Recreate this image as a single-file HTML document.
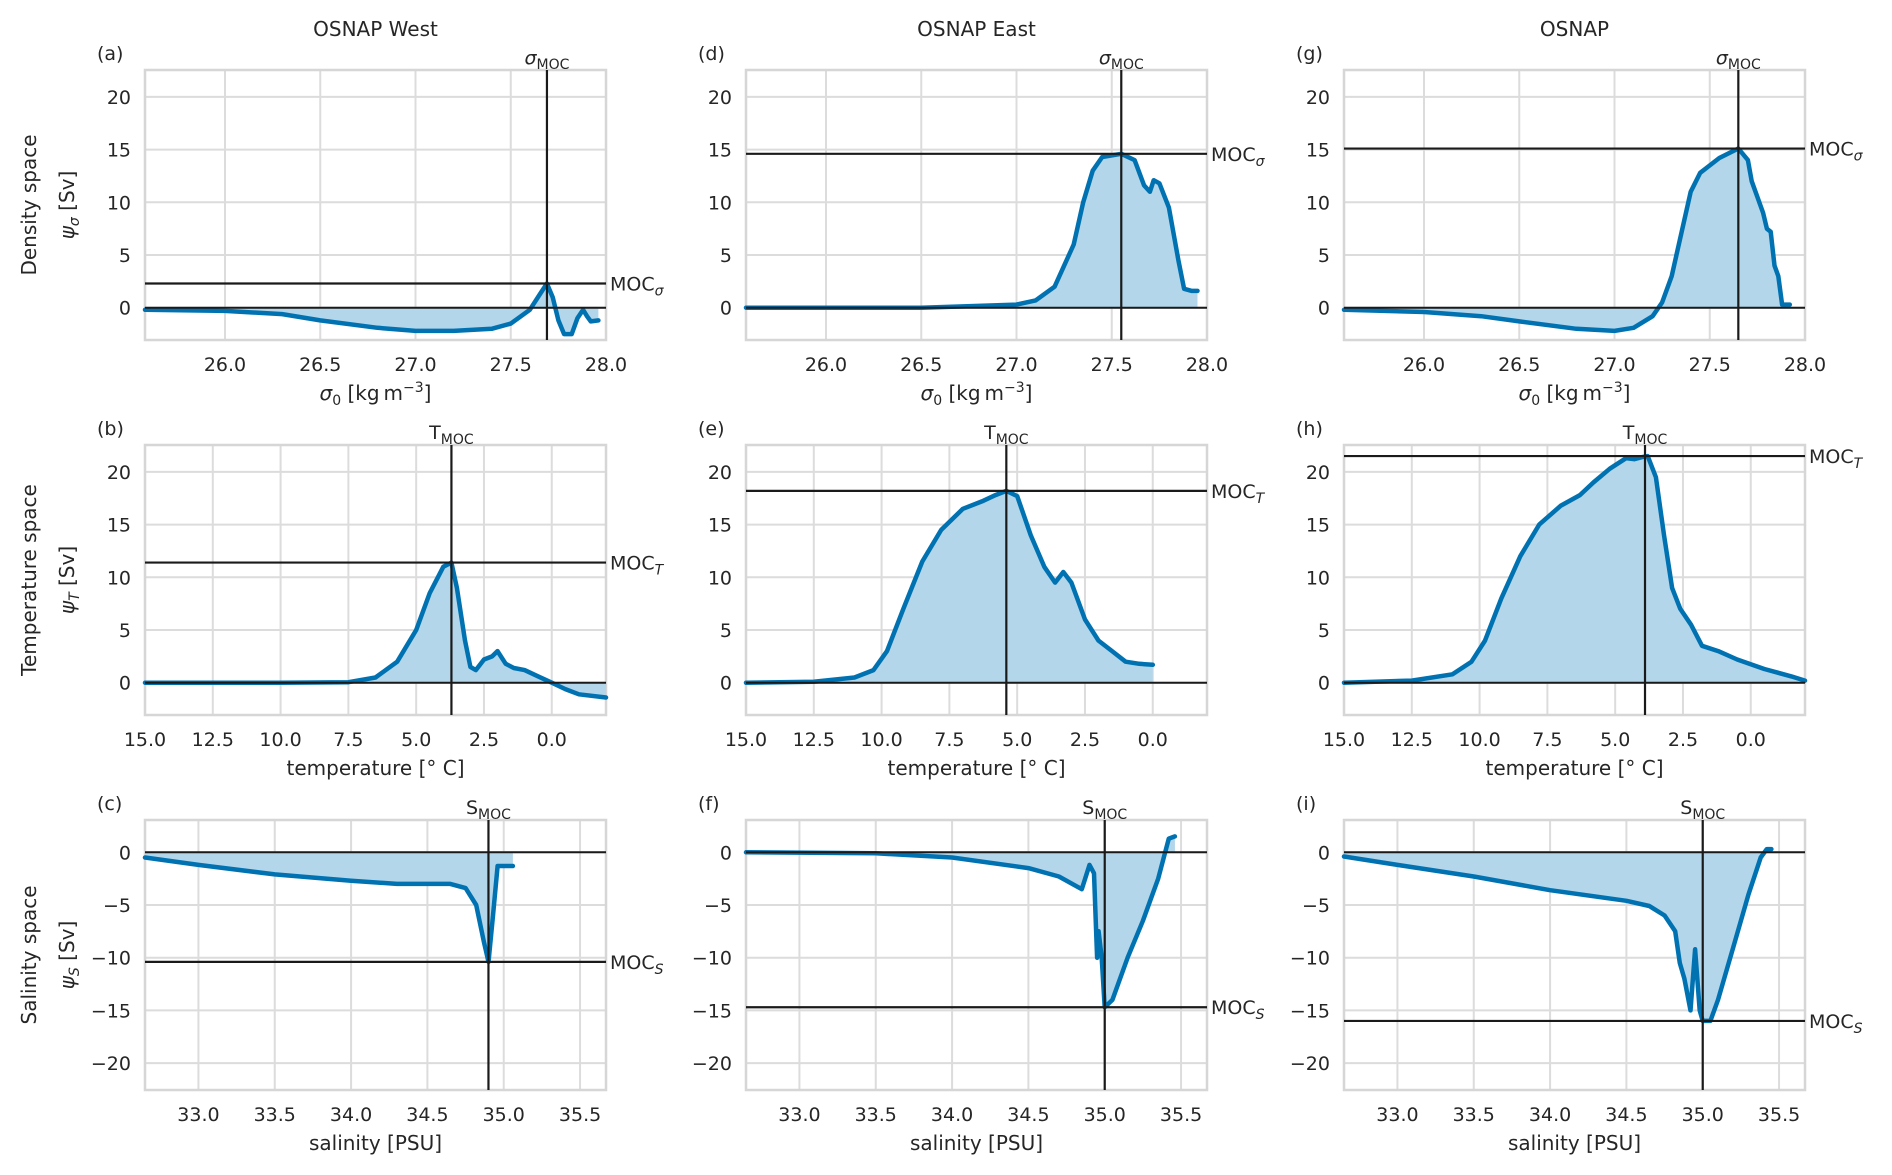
<!DOCTYPE html>
<html><head><meta charset="utf-8">
<style>
html,body{margin:0;padding:0;background:#fff;}
svg{display:block;font-family:"DejaVu Sans","Liberation Sans",sans-serif;}
</style></head>
<body>
<svg id="fig" width="1892" height="1175" viewBox="0 0 1892 1175" xmlns="http://www.w3.org/2000/svg"></svg>
<script>
// ---- data ----
const densWestX=[25.58,26.0,26.3,26.5,26.8,27.0,27.2,27.4,27.5,27.6,27.65,27.69,27.72,27.75,27.78,27.82,27.85,27.88,27.9,27.92,27.96];
const densWestY=[-0.2,-0.3,-0.6,-1.2,-1.9,-2.2,-2.2,-2.0,-1.5,-0.2,1.2,2.3,1.0,-1.2,-2.5,-2.5,-1.0,-0.2,-0.8,-1.3,-1.2];
const densEastX=[25.58,26.5,27.0,27.1,27.2,27.3,27.35,27.4,27.45,27.55,27.62,27.67,27.7,27.72,27.75,27.8,27.85,27.88,27.92,27.95];
const densEastY=[0,0,0.3,0.7,2,6,10,13,14.3,14.6,14,11.6,11,12.1,11.8,9.5,4.5,1.8,1.6,1.6];
const densAllX=[25.58,26.0,26.3,26.5,26.8,27.0,27.1,27.2,27.25,27.3,27.35,27.4,27.45,27.5,27.55,27.65,27.7,27.72,27.75,27.78,27.8,27.82,27.84,27.86,27.88,27.92];
const densAllY=[-0.2,-0.4,-0.8,-1.3,-2.0,-2.2,-1.9,-0.8,0.5,3,7,11,12.8,13.5,14.2,15.1,14,12,10.5,9,7.5,7.2,4,3,0.3,0.3];
const tempWestX=[15,10,7.5,6.5,5.7,5,4.5,4,3.7,3.5,3.2,3.0,2.8,2.5,2.2,2.0,1.7,1.4,1.0,0.5,0,-0.5,-1,-2];
const tempWestY=[0,0,0.05,0.5,2,5,8.5,11,11.4,9,4,1.5,1.2,2.2,2.5,3.0,1.8,1.4,1.2,0.6,0,-0.6,-1.1,-1.4];
const tempEastX=[15,12.5,11,10.3,9.8,9.2,8.5,7.8,7,6.3,5.8,5.4,5.0,4.5,4.0,3.6,3.3,3.0,2.5,2.0,1.5,1.0,0.5,0];
const tempEastY=[0,0.1,0.5,1.2,3,7,11.5,14.5,16.5,17.2,17.8,18.2,17.7,14,11,9.5,10.5,9.5,6,4,3,2,1.8,1.7];
const tempAllX=[15,12.5,11,10.3,9.8,9.2,8.5,7.8,7,6.3,5.8,5.2,4.6,4.3,4.0,3.8,3.5,3.2,2.9,2.6,2.2,1.8,1.2,0.5,-0.5,-1.5,-2];
const tempAllY=[0,0.2,0.8,2,4,8,12,15,16.8,17.8,19,20.3,21.3,21.2,21.4,21.5,19.5,14,9,7,5.5,3.5,3,2.2,1.3,0.6,0.2];
const salWestX=[32.65,33.0,33.5,34.0,34.3,34.5,34.65,34.75,34.82,34.87,34.9,34.93,34.96,35.06];
const salWestY=[-0.5,-1.2,-2.1,-2.7,-3.0,-3.0,-3.0,-3.4,-5,-8.5,-10.4,-6,-1.3,-1.3];
const salEastX=[32.65,33.5,34.0,34.5,34.7,34.85,34.9,34.93,34.95,34.96,34.98,35.0,35.05,35.15,35.25,35.35,35.42,35.46];
const salEastY=[0,-0.1,-0.5,-1.5,-2.3,-3.5,-1.2,-2,-10,-7.5,-10,-14.7,-14,-10,-6.5,-2.5,1.3,1.5];
const salAllX=[32.65,33.0,33.5,34.0,34.5,34.65,34.75,34.82,34.85,34.88,34.92,34.95,34.98,35.0,35.05,35.1,35.2,35.3,35.38,35.42,35.45];
const salAllY=[-0.4,-1.2,-2.3,-3.6,-4.6,-5.1,-6,-7.5,-10.5,-12,-15,-9.2,-15,-16,-16,-14,-9,-4,-0.5,0.3,0.3];
const mocX=[27.69,27.55,27.65,3.7,5.4,3.9,34.9,35.0,35.0];
const mocY=[2.3,14.6,15.1,11.4,18.2,21.5,-10.4,-14.7,-16.0];
const densTicks=[26.0,26.5,27.0,27.5,28.0];
const tempTicks=[15.0,12.5,10.0,7.5,5.0,2.5,0.0];
const salTicks=[33.0,33.5,34.0,34.5,35.0,35.5];
const yTicksPos=[0,5,10,15,20];
const yTicksNeg=[0,-5,-10,-15,-20];
const colTitles=["OSNAP West","OSNAP East","OSNAP"];
const letters=["a","d","g","b","e","h","c","f","i"];

// ---- layout ----
const NS="http://www.w3.org/2000/svg";
const svg=document.getElementById('fig');
const colL=[145,746,1344], PW=461;
const rowT=[70,445,820], PH=270;
function mk(tag,attrs,parent){const e=document.createElementNS(NS,tag);for(const k in attrs)e.setAttribute(k,attrs[k]);(parent||svg).appendChild(e);return e;}
function fmt(v){return (v<0?'\u2212':'')+Math.abs(v).toFixed(1);}

const rows=[
 {xlim:[25.58,28.0],ylim:[-3.06,22.55],ticks:densTicks,yt:yTicksPos,xlab:'density',sym:'\u03C3',symItal:true,series:[[densWestX,densWestY],[densEastX,densEastY],[densAllX,densAllY]],row:'Density space',ysub:'\u03C3',yi:true},
 {xlim:[15,-2],ylim:[-3.06,22.55],ticks:tempTicks,yt:yTicksPos,xlab:'temperature [\u00B0 C]',sym:'T',symItal:false,series:[[tempWestX,tempWestY],[tempEastX,tempEastY],[tempAllX,tempAllY]],row:'Temperature space',ysub:'T',yi:true},
 {xlim:[32.65,35.67],ylim:[-22.55,3.06],ticks:salTicks,yt:yTicksNeg,xlab:'salinity [PSU]',sym:'S',symItal:false,series:[[salWestX,salWestY],[salEastX,salEastY],[salAllX,salAllY]],row:'Salinity space',ysub:'S',yi:true}
];

for(let c=0;c<3;c++){
  const t=mk('text',{x:colL[c]+PW/2,y:36,'text-anchor':'middle','font-size':20,fill:'#262626'});
  
  
  t.textContent=colTitles[c];
}

rows.forEach((R,r)=>{
  const top=rowT[r];
  const cy=top+PH/2;
  const rl=mk('text',{x:0,y:0,transform:`translate(36,${cy}) rotate(-90)`,'text-anchor':'middle','font-size':20,fill:'#262626'});
  
  
  rl.textContent=R.row;
  const yl=mk('text',{x:0,y:0,transform:`translate(74,${cy}) rotate(-90)`,'text-anchor':'middle','font-size':20,fill:'#262626'});
  
  
  yl.innerHTML='<tspan font-style="italic">\u03C8</tspan><tspan font-size="14" dy="5" font-style="italic">'+R.ysub+'</tspan><tspan dy="-5"> [Sv]</tspan>';

  for(let c=0;c<3;c++){
    const idx=r*3+c;
    const left=colL[c];
    const g=mk('g',{});
    
    
    const X=v=>left+(v-R.xlim[0])/(R.xlim[1]-R.xlim[0])*PW;
    const Y=v=>top+PH-(v-R.ylim[0])/(R.ylim[1]-R.ylim[0])*PH;
    R.ticks.forEach(t=>{
      const x=X(t);
      const gl=mk('line',{x1:x,x2:x,y1:top,y2:top+PH,stroke:'#dcdcdc','stroke-width':2},g);
      
      
      const tl=mk('text',{x:x,y:top+PH+31,'text-anchor':'middle','font-size':19,fill:'#262626'},g);
      
      
      tl.textContent=fmt(t);
    });
    R.yt.forEach(t=>{
      const y=Y(t);
      const gl=mk('line',{x1:left,x2:left+PW,y1:y,y2:y,stroke:'#dcdcdc','stroke-width':2},g);
      
      
      const tl=mk('text',{x:left-14,y:y+7,'text-anchor':'end','font-size':19,fill:'#262626'},g);
      
      
      tl.textContent=(t<0?'\u2212':'')+Math.abs(t);
    });
    const fr=mk('rect',{x:left,y:top,width:PW,height:PH,fill:'none',stroke:'#d6d6d6','stroke-width':2.5},g);
    
    
    const [xs,ys]=R.series[c];
    let d='M'+X(xs[0])+','+Y(0);
    xs.forEach((v,i)=>{d+=' L'+X(v).toFixed(1)+','+Y(ys[i]).toFixed(1);});
    d+=' L'+X(xs[xs.length-1])+','+Y(0)+' Z';
    const fa=mk('path',{d:d,fill:'#b3d6ea',stroke:'none'},g);
    
    
    const pts=xs.map((v,i)=>X(v).toFixed(1)+','+Y(ys[i]).toFixed(1)).join(' ');
    const ln=mk('polyline',{points:pts,fill:'none',stroke:'#0072b2','stroke-width':4.5,'stroke-linejoin':'round','stroke-linecap':'round'},g);
    
    
    const zl=mk('line',{x1:left,x2:left+PW,y1:Y(0),y2:Y(0),stroke:'#1a1a1a','stroke-width':2},g);
    
    
    const mx=X(mocX[idx]), my=Y(mocY[idx]);
    const hl=mk('line',{x1:left,x2:left+PW,y1:my,y2:my,stroke:'#1a1a1a','stroke-width':2.2},g);
    
    
    const vl=mk('line',{x1:mx,x2:mx,y1:top,y2:top+PH,stroke:'#1a1a1a','stroke-width':2.2},g);
    
    
    const ml=mk('text',{x:left+PW+4,y:my+7,'font-size':19,fill:'#262626'},g);
    
    
    ml.innerHTML='MOC<tspan font-size="14" dy="5" font-style="italic">'+R.ysub+'</tspan>';
    const sl=mk('text',{x:mx,y:top-6,'text-anchor':'middle','font-size':19,fill:'#262626'},g);
    
    
    sl.innerHTML='<tspan'+(R.symItal?' font-style="italic"':'')+'>'+R.sym+'</tspan><tspan font-size="14" dy="5">MOC</tspan>';
    const lt=mk('text',{x:left-48,y:top-10,'font-size':19,fill:'#262626'},g);
    
    
    lt.textContent='('+letters[idx]+')';
    const xl=mk('text',{x:left+PW/2,y:top+PH+60,'text-anchor':'middle','font-size':20,fill:'#262626'},g);
    
    
    if(r===0) xl.innerHTML='<tspan font-style="italic">\u03C3</tspan><tspan font-size="14" dy="5">0</tspan><tspan dy="-5"> [kg\u2009m</tspan><tspan font-size="14" dy="-8">\u22123</tspan><tspan dy="8">]</tspan>';
    else xl.textContent=R.xlab;
  }
});
</script>
</body></html>
